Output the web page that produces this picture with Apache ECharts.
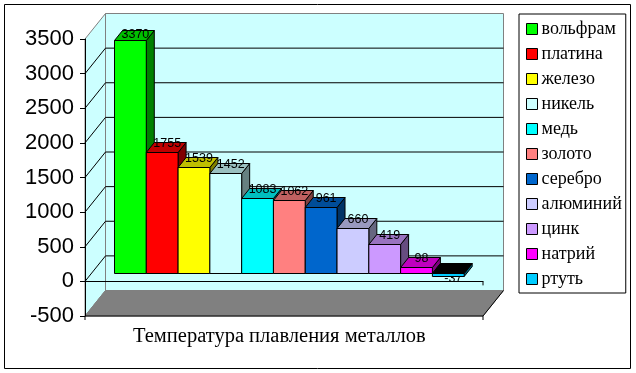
<!DOCTYPE html>
<html>
<head>
<meta charset="utf-8">
<title>Температура плавления металлов</title>
<style>
html, body { margin: 0; padding: 0; background: #fff; }
#chart { width: 636px; height: 373px; }
</style>
<script src="https://cdn.jsdelivr.net/npm/echarts@6/dist/echarts.min.js"></script>
</head>
<body>
<div id="chart"></div>
<script>
var metals = ['вольфрам', 'платина', 'железо', 'никель', 'медь', 'золото', 'серебро', 'алюминий', 'цинк', 'натрий', 'ртуть'];
var meltingPoints = [3370, 1755, 1539, 1452, 1083, 1062, 961, 660, 419, 98, -37];
var metalColors = ['#00FF00', '#FF0000', '#FFFF00', '#CCFFFF', '#00FFFF', '#FF8080', '#0066CC', '#CCCCFF', '#CC99FF', '#FF00FF', '#00CCFF'];
var yTicks = [-500, 0, 500, 1000, 1500, 2000, 2500, 3000, 3500];
var chartTitle = 'Температура плавления металлов';

// 3d look, all in px
var wallDx = 20.5, wallDy = -25.5;   // front plane -> back wall
var barDx = 6.3, barDy = -8;         // front plane -> bar front
var depthDx = 8, depthDy = -10;      // bar front -> bar back
var xMin = -1.23, xMax = 11.29;

function shade(hex, k) {
  var c = echarts.color.parse(hex);
  return 'rgb(' + Math.round(c[0] * k) + ',' + Math.round(c[1] * k) + ',' + Math.round(c[2] * k) + ')';
}

function poly(points, fill, stroke) {
  return {
    type: 'polygon',
    shape: { points: points },
    style: { fill: fill, stroke: stroke, lineWidth: 1 }
  };
}

function line(a, b, color) {
  return {
    type: 'line',
    shape: { x1: a[0], y1: a[1], x2: b[0], y2: b[1] },
    style: { stroke: color, lineWidth: 1 }
  };
}

function renderFrame(params, api) {
  var tl = api.coord([xMin, 3500]);
  var bl = api.coord([xMin, -500]);
  var br = api.coord([xMax, -500]);
  var zr = api.coord([xMax, 0]);
  var kids = [];
  // side wall
  kids.push(poly([tl, [tl[0] + wallDx, tl[1] + wallDy], [bl[0] + wallDx, bl[1] + wallDy], bl], '#CCFFFF', '#808080'));
  // back wall
  kids.push(poly([[tl[0] + wallDx, tl[1] + wallDy], [br[0] + wallDx, tl[1] + wallDy], [br[0] + wallDx, br[1] + wallDy], [bl[0] + wallDx, bl[1] + wallDy]], '#CCFFFF', '#808080'));
  // gridlines
  yTicks.forEach(function (t) {
    if (t == -500 || t == 3500) return;
    var p = api.coord([xMin, t]);
    var q = api.coord([xMax, t]);
    kids.push(line(p, [p[0] + wallDx, p[1] + wallDy], '#000'));
    kids.push(line([p[0] + wallDx, p[1] + wallDy], [q[0] + wallDx, q[1] + wallDy], '#000'));
  });
  // floor
  kids.push(poly([bl, [bl[0] + wallDx, bl[1] + wallDy], [br[0] + wallDx, br[1] + wallDy], br], '#808080', '#808080'));
  kids.push(line(bl, br, '#000'));
  kids.push(line(br, [br[0] + wallDx, br[1] + wallDy], '#000'));
  kids.push(line(bl, [bl[0], bl[1] + 4], '#000'));
  kids.push(line(br, [br[0], br[1] + 4], '#000'));
  kids.push(line(zr, [zr[0], zr[1] + 4], '#000'));
  return { type: 'group', children: kids };
}

function renderBar(params, api) {
  var i = api.value(0), v = api.value(1);
  var w = api.size([1, 0])[0];
  var base = api.coord([i, 0]);
  var top = api.coord([i, v]);
  var color = metalColors[i];
  var x0 = base[0] - w / 2 + barDx, x1 = x0 + w;
  var yTop = Math.round(Math.min(base[1], top[1]) + barDy) + 0.5;
  var yBot = Math.round(Math.max(base[1], top[1]) + barDy) + 0.5;
  // tallest label gets pushed down inside the plot
  var labelMinY = api.coord([xMin, 3500])[1] - 4;

  var label = {
    type: 'text',
    style: {
      text: String(v),
      x: (x0 + x1) / 2 + 5,
      y: v < 0 ? yBot + 2 : Math.max(yTop + depthDy + 1, labelMinY),
      align: 'center',
      verticalAlign: 'middle',
      fill: '#000',
      font: '12.5px "Liberation Sans", Arial, sans-serif'
    }
  };
  var faces = [
    poly([[x1, yTop], [x1 + depthDx, yTop + depthDy], [x1 + depthDx, yBot + depthDy], [x1, yBot]], shade(color, 0.5), '#000'),
    poly([[x0, yTop], [x0 + depthDx, yTop + depthDy], [x1 + depthDx, yTop + depthDy], [x1, yTop]], v < 0 ? '#000' : shade(color, 0.75), '#000'),
    poly([[x0, yTop], [x1, yTop], [x1, yBot], [x0, yBot]], color, '#000')
  ];
  return { type: 'group', children: v < 0 ? [label].concat(faces) : faces.concat([label]) };
}

var series = [{
  name: 'frame',
  type: 'custom',
  silent: true,
  renderItem: renderFrame,
  data: [[0, 0]],
  clip: false,
  z: 1
}];
metals.forEach(function (name, i) {
  series.push({
    name: name,
    type: 'custom',
    renderItem: renderBar,
    data: [[i, meltingPoints[i]]],
    itemStyle: { color: metalColors[i] },
    clip: false,
    z: 2
  });
});

var chart = echarts.init(document.getElementById('chart'), null, { renderer: 'canvas' });
chart.setOption({
  animation: false,
  backgroundColor: '#fff',
  title: {
    text: chartTitle,
    left: 133,
    top: 326,
    padding: 0,
    textStyle: { fontFamily: '"Liberation Serif", serif', fontSize: 20.5, fontWeight: 'normal', color: '#000' }
  },
  legend: {
    data: metals,
    orient: 'vertical',
    left: 519,
    top: 14,
    padding: [6, 4, 5, 7],
    borderColor: '#000',
    borderWidth: 1,
    itemWidth: 11,
    itemHeight: 11,
    itemGap: 7,
    icon: 'rect',
    selectedMode: false,
    itemStyle: { borderColor: '#000', borderWidth: 1 },
    textStyle: { fontFamily: '"Liberation Serif", serif', fontSize: 18, color: '#000', padding: [0, 0, 0, -1] }
  },
  grid: { left: 85, top: 39, width: 398, height: 277 },
  xAxis: {
    type: 'value',
    min: xMin,
    max: xMax,
    z: 5,
    axisLine: { show: true, onZero: true, lineStyle: { color: '#000', width: 1 } },
    axisTick: { show: false },
    axisLabel: { show: false },
    splitLine: { show: false }
  },
  yAxis: {
    type: 'value',
    min: -500,
    max: 3500,
    interval: 500,
    z: 5,
    axisLine: { show: true, onZero: false, lineStyle: { color: '#000', width: 1 } },
    axisTick: { show: true, length: 5, inside: false, lineStyle: { color: '#000', width: 1 } },
    axisLabel: {
      margin: 11,
      color: '#000',
      fontFamily: '"Liberation Sans", Arial, sans-serif',
      fontSize: 22,
      formatter: function (val) { return String(val); }
    },
    splitLine: { show: false }
  },
  graphic: [{
    type: 'rect',
    shape: { x: 4.5, y: 4.5, width: 626, height: 364 },
    style: { fill: 'none', stroke: '#000', lineWidth: 1 },
    silent: true
  }],
  series: series
});
</script>
</body>
</html>
